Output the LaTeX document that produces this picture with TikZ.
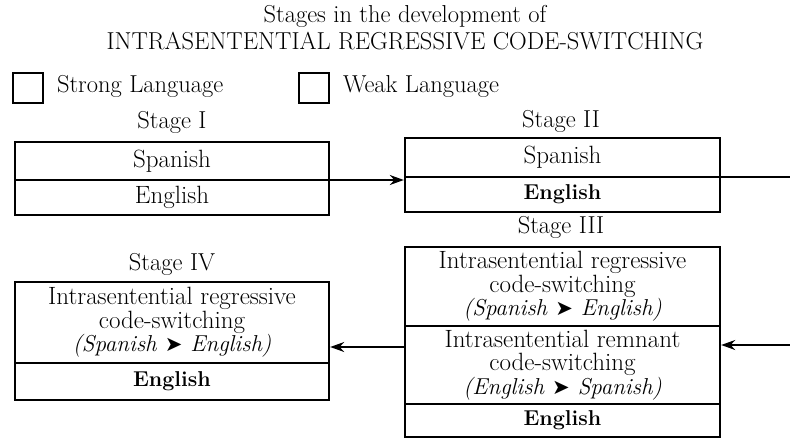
\documentclass[tikz,border=0pt]{standalone}
\usepackage{fontspec}
\newfontfamily\symfont{DejaVu Sans}
\usetikzlibrary{arrows.meta,fit}

\begin{document}
\begin{tikzpicture}[x=1pt,y=-1pt,
  every node/.style={inner sep=0pt, outer sep=0pt},
  sec/.style={draw, line width=1.3pt, inner sep=0pt, align=center,
              font=\fontsize{25}{23.5}\selectfont},
  stagebox/.style={draw, line width=2.4pt, inner sep=0pt, outer sep=1.2pt},
  conn/.style={line width=1.3pt, -{Stealth[length=14pt,width=10pt]}},
  legbox/.style={draw, line width=1.6pt, minimum width=30pt, minimum height=30pt},
  lbl/.style={anchor=base, font=\fontsize{24.5}{26}\selectfont},
  weak/.style={font=\fontsize{21.5}{23.5}\selectfont\bfseries}]

\newcommand\dirtext[2]{{\fontsize{23}{23.5}\selectfont\itshape (#1 {\symfont\upshape\fontsize{21}{23.5}\selectfont ➤} #2)}}

\useasboundingbox (0,0) rectangle (790,439);

% title
\node[lbl] (title1) at (405,23) {Stages in the development of};
\node[lbl] (title2) at (405,49) {INTRASENTENTIAL REGRESSIVE CODE-SWITCHING};

% legend
\node[legbox] (strongbox) at (28,88) {};
\node[lbl, anchor=base west] (stronglbl) at (57,92) {Strong Language};
\node[legbox] (weakbox) at (314,88) {};
\node[lbl, anchor=base west] (weaklbl) at (343,92) {Weak Language};

% Stage I
\node[lbl] (lbl1) at (172,128) {Stage I};
\node[sec, minimum width=314pt, minimum height=38pt] (s1a) at (172,161) {Spanish};
\node[sec, minimum width=314pt, minimum height=35pt] (s1b) at (172,197.5) {English};
\node[stagebox, fit=(s1a)(s1b)] (st1) {};

% Stage II
\node[lbl] (lbl2) at (561,127) {Stage II};
\node[sec, minimum width=315pt, minimum height=39pt] (s2a) at (562.5,157.5) {Spanish};
\node[sec, minimum width=315pt, minimum height=35pt, weak] (s2b) at (562.5,194.5) {English};
\node[stagebox, fit=(s2a)(s2b)] (st2) {};

% Stage III
\node[lbl] (lbl3) at (561,233) {Stage III};
\node[sec, minimum width=315pt, minimum height=79pt] (s3a) at (562.5,286.5)
  {Intrasentential regressive\\ code-switching\\ \dirtext{Spanish}{English}};
\node[sec, minimum width=315pt, minimum height=78pt] (s3b) at (562.5,365)
  {Intrasentential remnant\\ code-switching\\ \dirtext{English}{Spanish}};
\node[sec, minimum width=315pt, minimum height=33pt, weak] (s3c) at (562.5,420.5) {English};
\node[stagebox, fit=(s3a)(s3c)] (st3) {};

% Stage IV
\node[lbl] (lbl4) at (172,270) {Stage IV};
\node[sec, minimum width=314pt, minimum height=81pt] (s4a) at (172,322.5)
  {Intrasentential regressive\\ code-switching\\ \dirtext{Spanish}{English}};
\node[sec, minimum width=314pt, minimum height=37pt, weak] (s4b) at (172,381.5) {English};
\node[stagebox, fit=(s4a)(s4b)] (st4) {};

% connectors
\coordinate (exitII) at (790,177);
\coordinate (enterIII) at (790,345);
\draw[conn] (s1a.south east) -- (s1a.south east -| st2.west);
\draw[line width=1.3pt] (s2a.south east) -- (exitII);
\draw[conn] (enterIII) -- (enterIII -| st3.east);
\draw[conn] ([yshift=-5pt]st3.west) -- ([yshift=-5pt]st3.west -| st4.east);

\end{tikzpicture}
\end{document}
